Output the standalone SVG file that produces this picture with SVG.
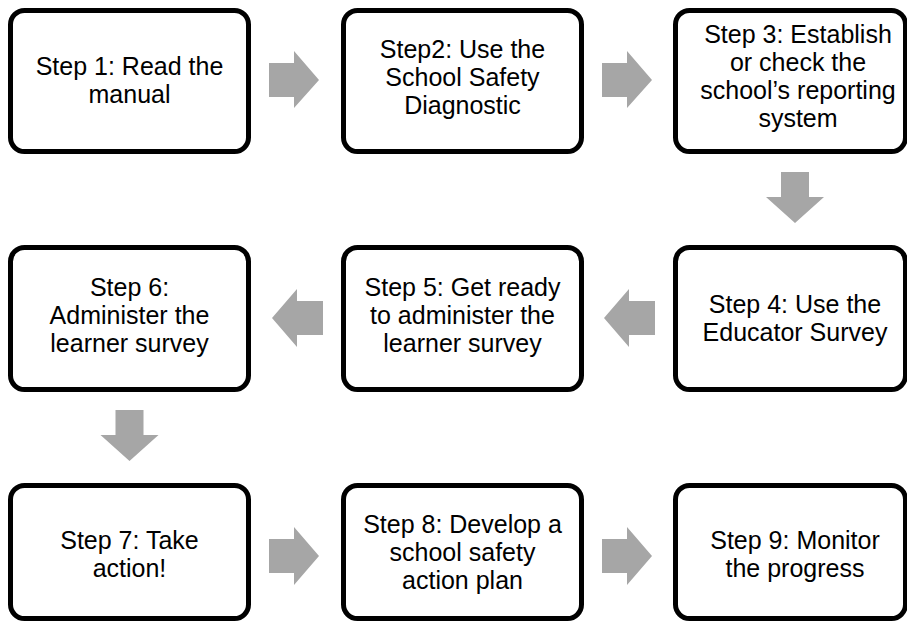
<svg xmlns="http://www.w3.org/2000/svg" width="907" height="622" viewBox="0 0 907 622">
<style>
.box{fill:#fff;stroke:#000;stroke-width:5}
.t{font-family:"Liberation Sans",Arial,sans-serif;font-size:25px;fill:#000;text-anchor:middle}
.arr{fill:#a6a6a6}
</style>
<rect width="907" height="622" fill="#fff"/>
<g id="connectors">
<polygon class="arr" points="269,63 294,63 294,51 319,80 294,108 294,97 269,97"/>
<polygon class="arr" points="602,63 627,63 627,51 652,80 627,108 627,97 602,97"/>
<polygon class="arr" points="781,172 809,172 809,197 824,197 795,223 766,197 781,197"/>
<polygon class="arr" points="655,301 629,301 629,289 604,318 629,347 629,335 655,335"/>
<polygon class="arr" points="323,301 297,301 297,289 272,318 297,347 297,335 323,335"/>
<polygon class="arr" points="115.5,410 143.5,410 143.5,435 158.5,435 129.5,461 100.5,435 115.5,435"/>
<polygon class="arr" points="269,539 294,539 294,527 319,556 294,585 294,573 269,573"/>
<polygon class="arr" points="602,539 627,539 627,527 652,556 627,585 627,573 602,573"/>
</g>
<g id="step1"><rect class="box" x="10.5" y="10.5" width="238" height="141" rx="14"/>
<text class="t" y="75"><tspan x="129.5">Step 1: Read the</tspan><tspan x="129.5" dy="28">manual</tspan></text></g>
<g id="step2"><rect class="box" x="343.5" y="10.5" width="238" height="141" rx="14"/>
<text class="t" y="58"><tspan x="462.5">Step2: Use the</tspan><tspan x="462.5" dy="28">School Safety</tspan><tspan x="462.5" dy="28">Diagnostic</tspan></text></g>
<g id="step3"><rect class="box" x="675.5" y="10.5" width="230" height="141" rx="14"/>
<text class="t" y="43"><tspan x="798">Step 3: Establish</tspan><tspan x="798" dy="28">or check the</tspan><tspan x="798" dy="28">school’s reporting</tspan><tspan x="798" dy="28">system</tspan></text></g>
<g id="step4"><rect class="box" x="675.5" y="247.5" width="230" height="142" rx="14"/>
<text class="t" y="312.5"><tspan x="795">Step 4: Use the</tspan><tspan x="795" dy="28">Educator Survey</tspan></text></g>
<g id="step5"><rect class="box" x="343.5" y="247.5" width="238" height="142" rx="14"/>
<text class="t" y="295.5"><tspan x="462.5">Step 5: Get ready</tspan><tspan x="462.5" dy="28">to administer the</tspan><tspan x="462.5" dy="28">learner survey</tspan></text></g>
<g id="step6"><rect class="box" x="10.5" y="247.5" width="238" height="142" rx="14"/>
<text class="t" y="295.5"><tspan x="129.5">Step 6:</tspan><tspan x="129.5" dy="28">Administer the</tspan><tspan x="129.5" dy="28">learner survey</tspan></text></g>
<g id="step7"><rect class="box" x="10.5" y="485.5" width="238" height="133" rx="14"/>
<text class="t" y="549"><tspan x="129.5">Step 7: Take</tspan><tspan x="129.5" dy="28">action!</tspan></text></g>
<g id="step8"><rect class="box" x="343.5" y="485.5" width="238" height="133" rx="14"/>
<text class="t" y="533"><tspan x="462.5">Step 8: Develop a</tspan><tspan x="462.5" dy="28">school safety</tspan><tspan x="462.5" dy="28">action plan</tspan></text></g>
<g id="step9"><rect class="box" x="675.5" y="485.5" width="230" height="133" rx="14"/>
<text class="t" y="549"><tspan x="795">Step 9: Monitor</tspan><tspan x="795" dy="28">the progress</tspan></text></g>
</svg>
